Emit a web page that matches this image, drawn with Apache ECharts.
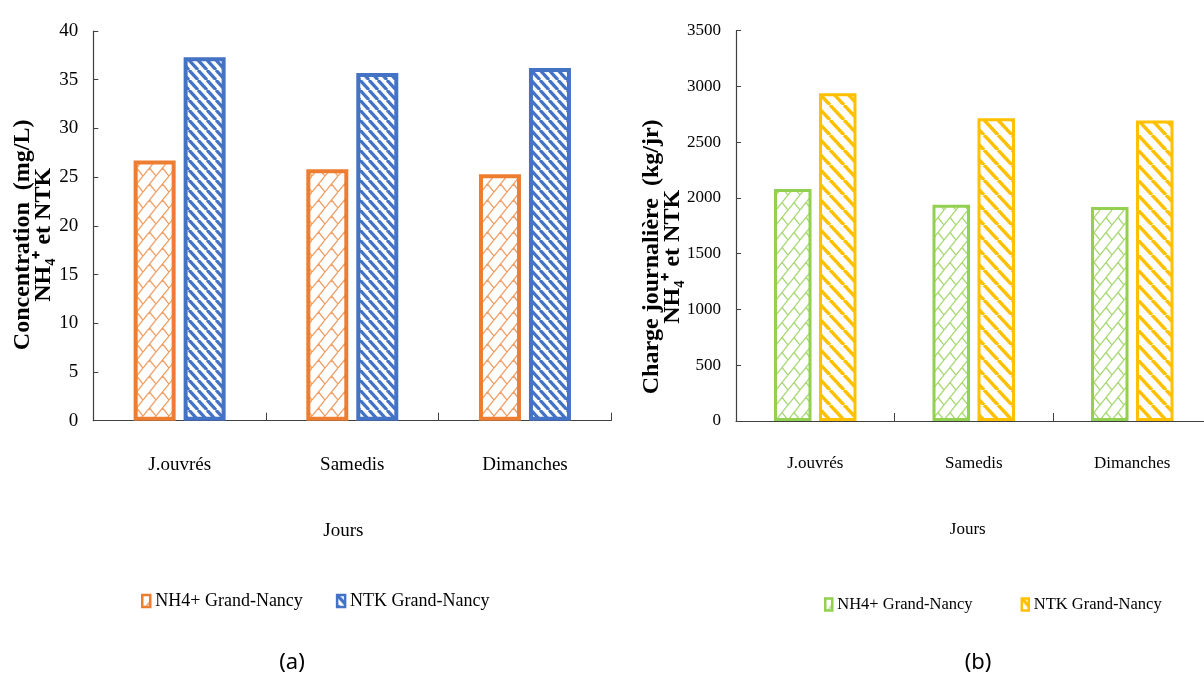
<!DOCTYPE html>
<html><head><meta charset="utf-8">
<script src="https://cdn.jsdelivr.net/npm/echarts@6/dist/echarts.min.js"></script>
<style>
html,body{margin:0;padding:0;background:#fff;}
#wrap{position:relative;width:1204px;height:680px;overflow:hidden;}
#ca{position:absolute;left:0;top:0;width:620px;height:680px;}
#cb{position:absolute;left:620px;top:0;width:584px;height:680px;}
</style>
</head><body><div id="wrap"><div id="ca"></div><div id="cb"></div></div>
<script>
const categories = ['J.ouvrés', 'Samedis', 'Dimanches'];
const seriesNames = ['NH4+ Grand-Nancy', 'NTK Grand-Nancy'];
const concNH4 = [26.7, 25.8, 25.3];
const concNTK = [37.3, 35.7, 36.2];
const chargeNH4 = [2080, 1940, 1920];
const chargeNTK = [2940, 2715, 2695];
const concAxis = { min: 0, max: 40, interval: 5 };
const chargeAxis = { min: 0, max: 3500, interval: 500 };

const SERIF = '"Liberation Serif", "Times New Roman", serif';

function brick(color, W, H, lw) {
  const c = document.createElement('canvas'); c.width = W; c.height = H;
  const g = c.getContext('2d');
  g.fillStyle = '#fff'; g.fillRect(0, 0, W, H);
  g.strokeStyle = color; g.lineWidth = lw;
  g.beginPath();
  for (let k = -1; k <= 2; k++) { g.moveTo(k * W, 0); g.lineTo((k - 1) * W, H); }
  for (let dx = -1; dx <= 1; dx++) for (let dy = -1; dy <= 1; dy++) {
    g.moveTo(W / 2 + dx * W, H / 2 + dy * H); g.lineTo(W + dx * W, H + dy * H);
  }
  g.stroke();
  return { image: c, repeat: 'repeat' };
}
function stripes(color, W, H, lw) {
  const c = document.createElement('canvas'); c.width = W; c.height = H;
  const g = c.getContext('2d');
  g.fillStyle = '#fff'; g.fillRect(0, 0, W, H);
  g.strokeStyle = color; g.lineWidth = lw;
  g.beginPath();
  for (let k = -1; k <= 1; k++) { g.moveTo(k * W, 0); g.lineTo(k * W + W, H); }
  g.stroke();
  return { image: c, repeat: 'repeat' };
}

function makeOption(cfg) {
  return {
    animation: false,
    backgroundColor: '#fff',
    grid: cfg.grid,
    legend: Object.assign({
      orient: 'horizontal', icon: 'rect',
      itemStyle: { borderWidth: 2.5 },
      textStyle: { fontFamily: SERIF, color: '#000', fontSize: cfg.legendFont },
      data: seriesNames
    }, cfg.legend),
    graphic: [{
      type: 'text', x: cfg.capX, y: 663,
      style: { text: cfg.caption, fontFamily: '"Noto Sans", "Open Sans", sans-serif', fontSize: 22, fill: '#000', align: 'center', verticalAlign: 'middle' }
    }],
    xAxis: {
      type: 'category', data: categories, boundaryGap: true,
      axisLine: { show: true, lineStyle: { color: '#404040', width: 1.2 } },
      axisTick: { show: true, inside: true, length: 8, lineStyle: { color: '#404040' } },
      axisLabel: { margin: cfg.catMargin, fontFamily: SERIF, fontSize: cfg.catFont, color: '#000' },
      name: 'Jours', nameLocation: 'middle', nameGap: cfg.xNameGap,
      nameTextStyle: { fontFamily: SERIF, fontSize: cfg.catFont, color: '#000', padding: cfg.xNamePad }
    },
    yAxis: {
      type: 'value', min: cfg.axis.min, max: cfg.axis.max, interval: cfg.axis.interval,
      splitLine: { show: false },
      axisLine: { show: true, lineStyle: { color: '#404040', width: 1.2 } },
      axisTick: { show: true, inside: true, length: 5, lineStyle: { color: '#404040' } },
      axisLabel: { margin: 15, fontFamily: SERIF, fontSize: cfg.tickFont, color: '#000', formatter: v => String(v) },
      name: cfg.yName, nameLocation: 'middle', nameRotate: 90, nameGap: cfg.yNameGap, nameMoveOverlap: false,
      nameTextStyle: { fontFamily: SERIF, fontWeight: 'bold', fontSize: 24, lineHeight: 21, color: '#000', align: 'center', padding: cfg.yNamePad }
    },
    series: [
      { name: seriesNames[0], type: 'bar', data: cfg.d1, barWidth: cfg.barWidth, barGap: cfg.barGap,
        itemStyle: { color: cfg.fill1, borderColor: cfg.c1, borderWidth: cfg.border } },
      { name: seriesNames[1], type: 'bar', data: cfg.d2, barWidth: cfg.barWidth, barGap: cfg.barGap,
        itemStyle: { color: cfg.fill2, borderColor: cfg.c2, borderWidth: cfg.border } }
    ]
  };
}

const chartA = echarts.init(document.getElementById('ca'));
chartA.setOption(makeOption({
  grid: { left: 93.3, right: 8.7, top: 31, bottom: 259.3, containLabel: false, outerBoundsMode: 'none' },
  legend: { left: 136, top: 587, itemWidth: 8, itemHeight: 12, itemGap: 33 },
  legendFont: 18,
  caption: '(a)', capX: 292,
  catMargin: 35, catFont: 19, tickFont: 19, xNameGap: 101, xNamePad: [0, 18, 0, 0],
  axis: concAxis,
  yName: 'Concentration  (mg/L)\nNH\u2084\u207A et NTK', yNameGap: 39, yNamePad: [0, 18, 0, 0],
  d1: concNH4, d2: concNTK, barWidth: 42, barGap: '19%', border: 4,
  c1: '#ED7D31', c2: '#4472C4',
  fill1: brick('rgba(237,125,49,0.75)', 13, 16, 1.3),
  fill2: stripes('#4472C4', 9, 10, 3.2)
}));

const chartB = echarts.init(document.getElementById('cb'));
chartB.setOption(makeOption({
  grid: { left: 116, right: -7.5, top: 30.7, bottom: 259, containLabel: false, outerBoundsMode: 'none' },
  legend: { left: 199, top: 591, itemWidth: 7, itemHeight: 12, itemGap: 48 },
  legendFont: 16.5,
  caption: '(b)', capX: 358,
  catMargin: 34, catFont: 17, tickFont: 17, xNameGap: 100, xNamePad: [0, 12, 0, 0],
  axis: chargeAxis,
  yName: 'Charge journalière  (kg/jr)\nNH\u2084\u207A et NTK', yNameGap: 53, yNamePad: [0, 62, 0, 0],
  d1: chargeNH4, d2: chargeNTK, barWidth: 37.5, barGap: '20%', border: 3,
  c1: '#92D050', c2: '#FFC000',
  fill1: brick('rgba(146,208,80,0.8)', 12, 15, 1.3),
  fill2: stripes('#FFC000', 14, 15, 3.5)
}));
</script>
</body></html>
